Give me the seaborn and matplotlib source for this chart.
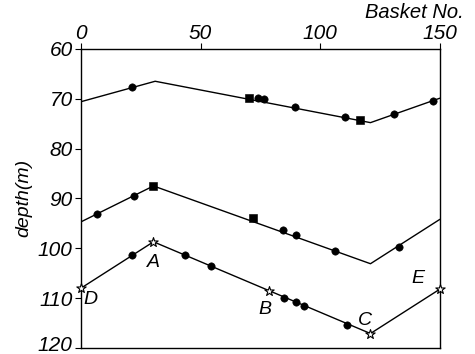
""" depth profile of the baskets along the transect """
import numpy as np
import pandas as pd
import matplotlib
matplotlib.use('Agg')
import matplotlib.pyplot as plt
import matplotlib.transforms as mtrans
import seaborn as sns

sns.set_style('white')
plt.rcParams['font.family'] = ['Liberation Sans', 'DejaVu Sans']
plt.rcParams['font.style'] = 'italic'
plt.rcParams['text.color'] = 'black'
plt.rcParams['xtick.color'] = 'black'
plt.rcParams['ytick.color'] = 'black'
plt.rcParams['axes.labelcolor'] = 'black'

# polyline vertices (basket no., depth m)
top_x = [0, 31, 121, 150]
top_y = [70.6, 66.5, 74.8, 69.9]
mid_x = [0, 30.3, 121, 150]
mid_y = [94.7, 87.5, 103.1, 94.2]
low_x = [0, 30.3, 121, 150]
low_y = [108.0, 98.7, 117.1, 108.2]

# circle markers
dot_x = [21.3, 73.9, 76.4, 89.5, 110.5, 131, 147,
         6.7, 22.2, 84.4, 89.8, 106.1, 132.8,
         21.3, 43.6, 54.4, 84.7, 89.7, 93.2, 111]
dot_y = [67.6, 69.8, 70.1, 71.6, 73.7, 73.1, 70.4,
         93.1, 89.5, 96.3, 97.4, 100.5, 99.7,
         101.3, 101.3, 103.6, 110.0, 110.8, 111.6, 115.3]
# square markers
sq_x = [70.3, 116.5, 30.3, 72.1]
sq_y = [69.8, 74.3, 87.5, 93.9]
# star markers (stations A-E)
star_lab = ['D', 'A', 'B', 'C', 'E']
star_x = [0, 30.3, 78.7, 121, 150]
star_y = [108.0, 98.7, 108.5, 117.1, 108.2]
lab_x = [3.8, 30.3, 77, 118.5, 141]
lab_y = [110.2, 102.9, 112.3, 114.5, 106.0]

fig = plt.figure(figsize=(4.75, 3.54), dpi=100)
ax = fig.add_axes([0.1705, 0.017, 0.7555, 0.845])

for xs, ys in [(top_x, top_y), (mid_x, mid_y), (low_x, low_y)]:
    d = pd.DataFrame({'x': xs, 'y': ys})
    sns.lineplot(data=d, x='x', y='y', sort=False, color='black', lw=1.0, ax=ax)

sns.scatterplot(x=dot_x, y=dot_y, marker='o', s=28, color='black', edgecolor='black', ax=ax, zorder=3)
sns.scatterplot(x=sq_x, y=sq_y, marker='s', s=28, color='black', edgecolor='black', ax=ax, zorder=3)
sns.scatterplot(x=star_x, y=star_y, marker='*', s=50, color='white', edgecolor='black',
                linewidth=0.8, ax=ax, zorder=4, clip_on=False)

for t, x, y in zip(star_lab, lab_x, lab_y):
    ax.text(x, y, t, fontsize=14, ha='center', va='center')

ax.set_xlim(0, 150)
ax.set_ylim(120, 60)
ax.xaxis.tick_top()
ax.set_xticks([0, 50, 100, 150])
ax.set_yticks([60, 70, 80, 90, 100, 110, 120])
ax.tick_params(axis='both', direction='out', length=4, width=0.8, labelsize=15, pad=2,
               top=True, left=True, bottom=False)
ax.tick_params(axis='x', pad=0)
# nudge the bottom label so it stays inside the picture
last = ax.get_yticklabels()[-1]
last.set_transform(last.get_transform() + mtrans.ScaledTranslation(0, 4 / 100, fig.dpi_scale_trans))
for s in ax.spines.values():
    s.set_color('black')
    s.set_linewidth(1.0)
ax.set_xlabel('')
ax.set_ylabel('depth(m)', fontsize=14, labelpad=4)
ax.text(0.928, 1.12, 'Basket No.', transform=ax.transAxes, fontsize=14.5, ha='center', va='center')

fig.savefig('out.png', dpi=100)
